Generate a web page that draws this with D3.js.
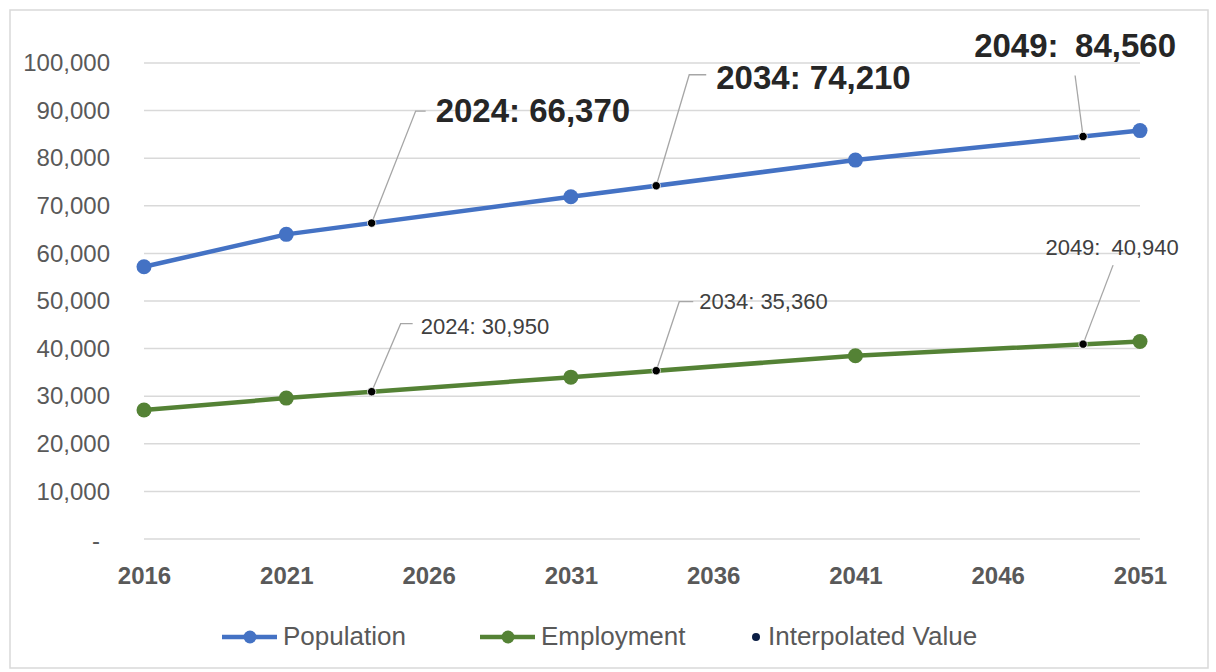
<!DOCTYPE html>
<html>
<head>
<meta charset="utf-8">
<script src="https://cdn.jsdelivr.net/npm/d3@7/dist/d3.min.js"></script>
<style>
  html, body { margin: 0; padding: 0; background: #ffffff; }
  svg { display: block; }
  text { font-family: "Liberation Sans", Arial, sans-serif; }
</style>
</head>
<body>
<svg id="chart" width="1216" height="672"></svg>
<script>
// ---- data ----
const years = [2016, 2021, 2031, 2041, 2051];
const population = [57200, 64000, 71900, 79600, 85800];
const employment = [27100, 29600, 34000, 38500, 41500];
const interpYears = [2024, 2034, 2049];
const populationInterp = [66370, 74210, 84560];
const employmentInterp = [30950, 35360, 40940];
const xTickValues = [2016, 2021, 2026, 2031, 2036, 2041, 2046, 2051];
const yTickValues = [0, 10000, 20000, 30000, 40000, 50000, 60000, 70000, 80000, 90000, 100000];
const seriesNames = ["Population", "Employment", "Interpolated Value"];

// ---- layout ----
const W = 1216, H = 672;
const svg = d3.select("#chart");
const blue = "#4472C4", green = "#548235";

svg.append("rect").attr("x", 10).attr("y", 10).attr("width", W - 18).attr("height", H - 14)
  .attr("fill", "#fff").attr("stroke", "#d9d9d9").attr("stroke-width", 1.5);

const x = d3.scaleLinear().domain([2016, 2051]).range([144, 1140]);
const y = d3.scaleLinear().domain([0, 100000]).range([539, 63]);

// gridlines
svg.append("g").selectAll("line").data(yTickValues).join("line")
  .attr("x1", x(2016)).attr("x2", x(2051))
  .attr("y1", d => y(d)).attr("y2", d => y(d))
  .attr("stroke", "#d9d9d9").attr("stroke-width", 1.5);

// y axis labels
const yAxis = d3.axisLeft(y).tickValues(yTickValues).tickSize(0).tickPadding(34)
  .tickFormat(d => d === 0 ? "-" : d3.format(",")(d));
const gy = svg.append("g").attr("transform", `translate(${x(2016)},0)`).call(yAxis);
gy.select(".domain").remove();
gy.selectAll("text").attr("font-size", 24).attr("fill", "#595959")
  .attr("font-family", "'Liberation Sans', Arial, sans-serif");
gy.selectAll("text").filter(d => d === 0).attr("dx", -10).attr("dy", "0.4em");

// x axis labels
const xAxis = d3.axisBottom(x).tickValues(xTickValues).tickSize(0).tickPadding(28)
  .tickFormat(d3.format("d"));
const gx = svg.append("g").attr("transform", `translate(0,${y(0)})`).call(xAxis);
gx.select(".domain").remove();
gx.selectAll("text").attr("font-size", 24).attr("font-weight", "bold").attr("fill", "#595959")
  .attr("font-family", "'Liberation Sans', Arial, sans-serif");

// lines
const line = d3.line().x(d => x(d[0])).y(d => y(d[1]));
const popData = years.map((yr, i) => [yr, population[i]]);
const empData = years.map((yr, i) => [yr, employment[i]]);

[[popData, blue], [empData, green]].forEach(([data, color]) => {
  svg.append("path").datum(data).attr("d", line)
    .attr("fill", "none").attr("stroke", color).attr("stroke-width", 4.5)
    .attr("stroke-linejoin", "round");
  svg.append("g").selectAll("circle").data(data).join("circle")
    .attr("cx", d => x(d[0])).attr("cy", d => y(d[1])).attr("r", 7.5)
    .attr("fill", color);
});

// label layout (offsets relative to the point)
const popLabelLayout = [
  { elbow: [44, -112], end: [54, -112], text: [64, -101], anchor: "start" },
  { elbow: [33, -111], end: [50, -111], text: [60, -97], anchor: "start" },
  { elbow: [-8, -61], end: [-8, -61], text: [-8, -79], anchor: "middle" }
];
const empLabelLayout = [
  { elbow: [29, -68], end: [41, -68], text: [49, -58], anchor: "start" },
  { elbow: [23, -69], end: [37, -69], text: [43, -62], anchor: "start" },
  { elbow: [30, -79], end: [30, -79], text: [29, -89], anchor: "middle" }
];

function drawInterp(vals, layout, fontSize, weight, color) {
  const g = svg.append("g");
  vals.forEach((v, i) => {
    const px = x(interpYears[i]), py = y(v), L = layout[i];
    g.append("polyline")
      .attr("points", [[px, py], [px + L.elbow[0], py + L.elbow[1]], [px + L.end[0], py + L.end[1]]].map(p => p.join(",")).join(" "))
      .attr("fill", "none").attr("stroke", "#a6a6a6").attr("stroke-width", 1.3);
    const sep = interpYears[i] === 2049 ? ":\u2002" : ": ";
    g.append("text").attr("x", px + L.text[0]).attr("y", py + L.text[1])
      .attr("text-anchor", L.anchor).attr("font-size", fontSize).attr("font-weight", weight)
      .attr("fill", color)
      .text(interpYears[i] + sep + d3.format(",")(v));
  });
  g.selectAll("circle").data(vals).join("circle")
    .attr("cx", (d, i) => x(interpYears[i])).attr("cy", d => y(d)).attr("r", 4.2)
    .attr("fill", "#000").attr("stroke", "#fff").attr("stroke-width", 0.8);
}
drawInterp(populationInterp, popLabelLayout, 33, "bold", "#262626");
drawInterp(employmentInterp, empLabelLayout, 22, "normal", "#404040");

// legend
const lg = svg.append("g");
const ly = 637;
const legendItems = [
  { name: seriesNames[0], color: blue, x0: 222, type: "line" },
  { name: seriesNames[1], color: green, x0: 480, type: "line" },
  { name: seriesNames[2], color: "#0b1e45", x0: 750, type: "dot" }
];
legendItems.forEach(it => {
  if (it.type === "line") {
    lg.append("line").attr("x1", it.x0).attr("x2", it.x0 + 55).attr("y1", ly).attr("y2", ly)
      .attr("stroke", it.color).attr("stroke-width", 4.5);
    lg.append("circle").attr("cx", it.x0 + 28).attr("cy", ly).attr("r", 6.5).attr("fill", it.color);
    lg.append("text").attr("x", it.x0 + 61).attr("y", ly + 8).attr("font-size", 26)
      .attr("fill", "#595959").text(it.name);
  } else {
    lg.append("circle").attr("cx", it.x0 + 6).attr("cy", ly).attr("r", 4).attr("fill", it.color);
    lg.append("text").attr("x", it.x0 + 18).attr("y", ly + 8).attr("font-size", 26)
      .attr("fill", "#595959").text(it.name);
  }
});
</script>
</body>
</html>
